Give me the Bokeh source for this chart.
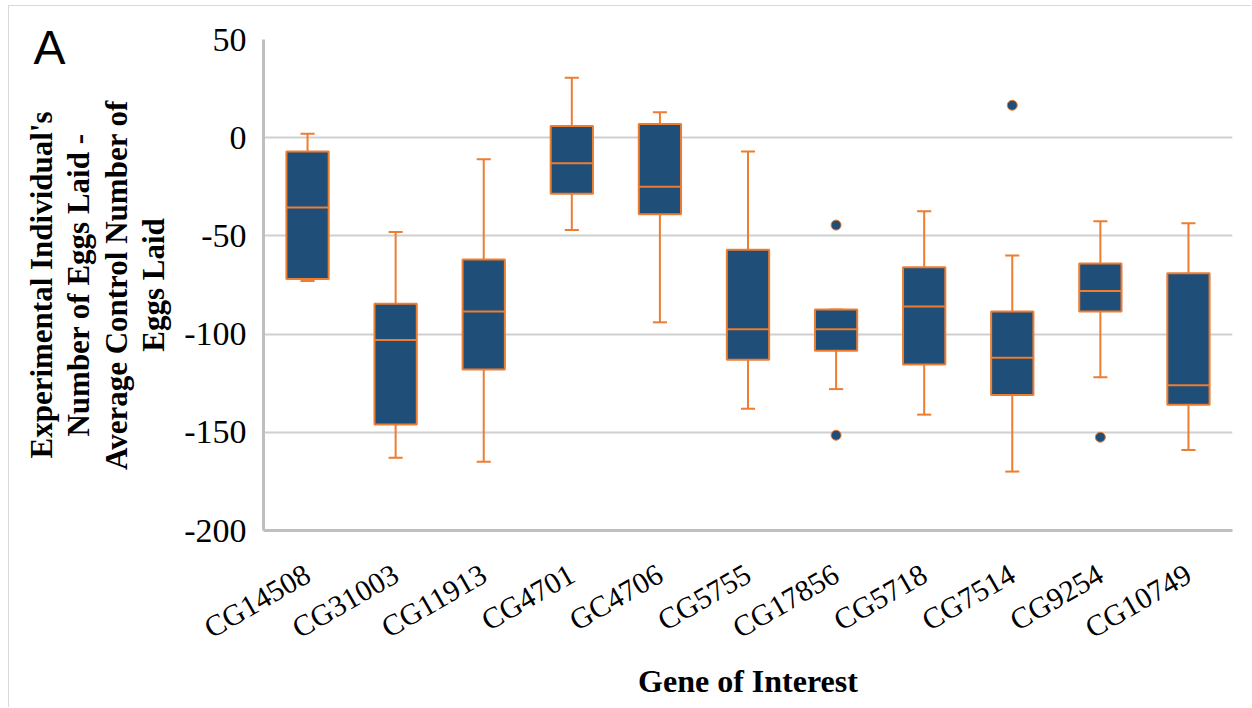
from math import pi
from bokeh.plotting import figure
from bokeh.models import ColumnDataSource, FixedTicker, Range1d
from bokeh.transform import dodge
from bokeh.embed import file_html
from bokeh.resources import INLINE

genes = ["CG14508", "CG31003", "CG11913", "CG4701", "GC4706", "CG5755",
         "CG17856", "CG5718", "CG7514", "CG9254", "CG10749"]
whisker_low = [-73, -163, -165, -47, -94, -138, -128, -141, -170, -122, -159]
q1 = [-72, -146, -118, -28.5, -39, -113, -108.5, -115.5, -131, -88.5, -136]
median = [-35.5, -103, -88.5, -13, -25, -97.5, -97.5, -86, -112, -78, -126]
q3 = [-7, -84.5, -62, 6, 7, -57, -87.5, -66, -88.5, -64, -69]
whisker_high = [2, -48, -11, 30.5, 13, -7, -87.5, -37.5, -60, -42.5, -43.5]
outlier_genes = ["CG17856", "CG17856", "CG7514", "CG9254"]
outlier_values = [-44.5, -151.5, 16.5, -152.5]
y_ticks = [-200, -150, -100, -50, 0, 50]

BLUE = "#1f4e79"
ORANGE = "#ed7d31"

src = ColumnDataSource(dict(gene=genes, low=whisker_low, q1=q1, med=median,
                            q3=q3, high=whisker_high))
osrc = ColumnDataSource(dict(gene=outlier_genes, val=outlier_values))

p = figure(width=1243, height=702, x_range=genes, y_range=Range1d(-200, 50),
           output_backend="svg", toolbar_location=None,
           min_border_left=254, min_border_right=20, min_border_top=33,
           min_border_bottom=178)
p.styles = {"margin-left": "8px", "margin-top": "5px",
            "border-left": "1px solid #d9d9d9",
            "border-top": "1px solid #d9d9d9"}

# panel letter "A" as the figure title, shifted to the top-left corner
p.title.text = "A"
p.title.align = "left"
p.title.offset = -230
p.title.text_font = "Liberation Sans"
p.title.text_font_style = "normal"
p.title.text_font_size = "48px"
p.title.text_color = "black"
p.title.vertical_align = "bottom"
try:
    p.title.standoff = -68
except Exception:
    p.title.standoff = 0

# whiskers
p.segment(x0="gene", y0="q3", x1="gene", y1="high", source=src,
          line_color=ORANGE, line_width=2)
p.segment(x0="gene", y0="q1", x1="gene", y1="low", source=src,
          line_color=ORANGE, line_width=2)
# caps
for col in ("high", "low"):
    p.segment(x0=dodge("gene", -0.08, range=p.x_range), y0=col,
              x1=dodge("gene", 0.08, range=p.x_range), y1=col, source=src,
              line_color=ORANGE, line_width=2)
# boxes
p.vbar(x="gene", width=0.48, top="q3", bottom="q1", source=src,
       fill_color=BLUE, line_color=ORANGE, line_width=2)
# medians
p.segment(x0=dodge("gene", -0.24, range=p.x_range), y0="med",
          x1=dodge("gene", 0.24, range=p.x_range), y1="med", source=src,
          line_color=ORANGE, line_width=2)
# outliers
p.scatter(x="gene", y="val", source=osrc, size=10, fill_color=BLUE,
          line_color=ORANGE, line_width=1)

p.outline_line_color = None
p.xgrid.grid_line_color = None
p.ygrid.grid_line_color = "#d0d0d0"
p.ygrid.grid_line_width = 2

p.yaxis.ticker = FixedTicker(ticks=y_ticks)
p.yaxis.major_label_overrides = {t: str(t) for t in y_ticks}
for ax in (p.xaxis, p.yaxis):
    ax.axis_line_color = "#bfbfbf"
    ax.axis_line_width = 3
    ax.major_tick_line_color = None
    ax.minor_tick_line_color = None
    ax.major_label_text_font = "Liberation Serif"
    ax.major_label_text_color = "black"
    ax.axis_label_text_font = "Liberation Serif"
    ax.axis_label_text_font_style = "bold"
    ax.axis_label_text_color = "black"
    ax.axis_label_text_font_size = "31px"

p.yaxis.major_label_text_font_size = "34px"
p.yaxis.major_label_standoff = 11
p.yaxis.axis_label = ("Experimental Individual's\nNumber of Eggs Laid -\n"
                      "Average Control Number of\nEggs Laid")
p.yaxis.axis_label_standoff = 10
p.yaxis.axis_label_text_line_height = 1.07

p.xaxis.major_label_text_font_size = "30px"
p.xaxis.major_label_orientation = pi / 6
p.xaxis.major_label_standoff = 35
p.xaxis.axis_label = "Gene of Interest"
p.xaxis.axis_label_text_font_size = "32px"
p.xaxis.axis_label_standoff = 2

open("out.html", "w").write(file_html(p, INLINE))
